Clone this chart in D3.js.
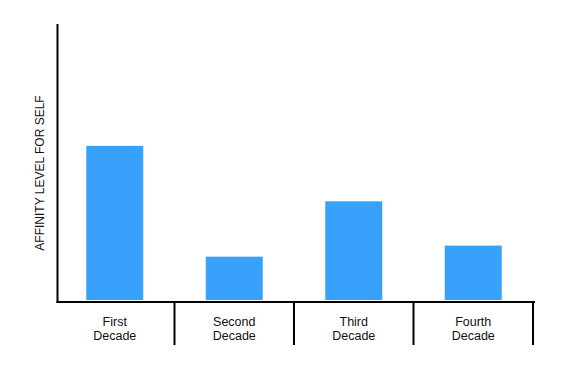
<!DOCTYPE html>
<html>
<head>
<meta charset="utf-8">
<script src="https://cdn.jsdelivr.net/npm/d3@7"></script>
<style>
  body { margin: 0; background: #fff; }
  text { font-family: "Liberation Sans", Arial, Helvetica, sans-serif; fill: #111; }
</style>
</head>
<body>
<div id="chart"></div>
<script>
let decades = ['First Decade', 'Second Decade', 'Third Decade', 'Fourth Decade'];
let affinity = [56, 16, 36, 20];
let yLabel = 'AFFINITY LEVEL FOR SELF';

let width = 586, height = 387;
let plotLeft = 57, plotRight = 533, plotTop = 24, plotBottom = 301;

let svg = d3.select('#chart').append('svg')
  .attr('width', width)
  .attr('height', height);

let x = d3.scaleBand()
  .domain(decades)
  .range([plotLeft - 2, plotRight])
  .paddingInner(0)
  .paddingOuter(0);

let y = d3.scaleLinear()
  .domain([0, 100])
  .range([plotBottom, plotTop]);

let barW = 57;

svg.selectAll('rect.bar')
  .data(affinity)
  .enter()
  .append('rect')
  .attr('class', 'bar')
  .attr('x', function(d, i) { return x(decades[i]) + x.bandwidth() / 2 - barW / 2; })
  .attr('y', function(d) { return y(d); })
  .attr('width', barW)
  .attr('height', function(d) { return y(0) - y(d) - 1; })
  .attr('fill', '#38a1fb');

// axes
svg.append('line')
  .attr('x1', plotLeft + 0.5).attr('x2', plotLeft + 0.5)
  .attr('y1', plotTop).attr('y2', plotBottom + 2)
  .attr('stroke', '#000').attr('stroke-width', 2);

svg.append('line')
  .attr('x1', plotLeft - 0.5).attr('x2', plotRight + 2)
  .attr('y1', plotBottom + 1).attr('y2', plotBottom + 1)
  .attr('stroke', '#000').attr('stroke-width', 2);

// separators under the axis
svg.selectAll('line.sep')
  .data(decades)
  .enter()
  .append('line')
  .attr('class', 'sep')
  .attr('x1', function(d) { return x(d) + x.bandwidth(); })
  .attr('x2', function(d) { return x(d) + x.bandwidth(); })
  .attr('y1', plotBottom + 1)
  .attr('y2', 345)
  .attr('stroke', '#000').attr('stroke-width', 2);

// category labels, two lines
let labels = svg.selectAll('text.cat')
  .data(decades)
  .enter()
  .append('text')
  .attr('class', 'cat')
  .attr('text-anchor', 'middle')
  .style('font-size', '12.5px');

labels.selectAll('tspan')
  .data(function(d) { return d.split(' ').map(function(w) { return { w: w, c: d }; }); })
  .enter()
  .append('tspan')
  .attr('x', function(t) { return x(t.c) + x.bandwidth() / 2; })
  .attr('y', function(t, i) { return 326 + i * 14; })
  .text(function(t) { return t.w; });

svg.append('text')
  .attr('transform', 'translate(44,173) rotate(-90)')
  .attr('text-anchor', 'middle')
  .style('font-size', '12px')
  .text(yLabel);
</script>
</body>
</html>
